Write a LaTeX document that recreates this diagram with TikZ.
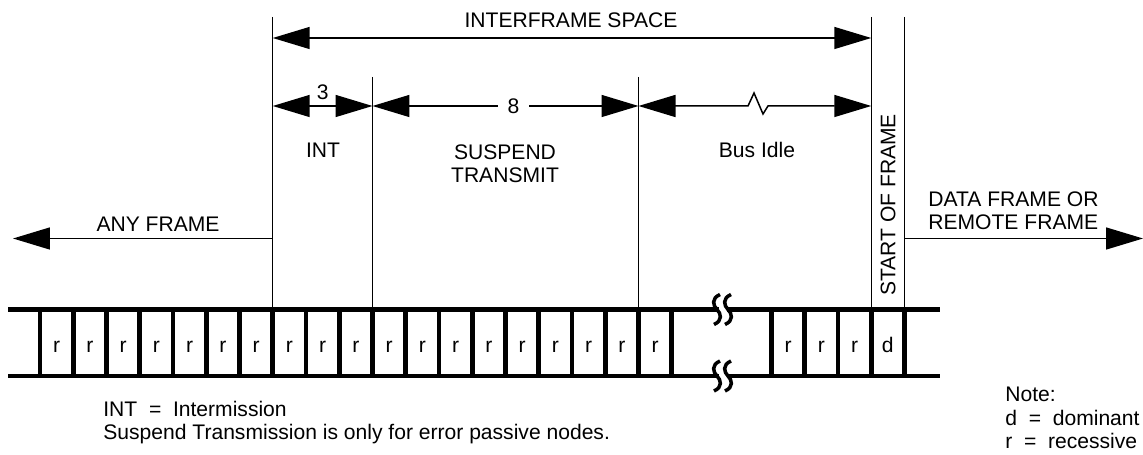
\documentclass[tikz,border=0pt]{standalone}
\usepackage{fontspec}
\setmainfont{Liberation Sans}
\usetikzlibrary{arrows.meta,positioning,calc}

\begin{document}
\begin{tikzpicture}[x=0.02cm, y=-0.02cm, font=\fontsize{12}{13.5}\selectfont, >={Triangle[length=0.74cm, width=0.44cm]},
  wire/.style={line width=0.85pt}, rail/.style={line width=2.7pt}, brk/.style={line width=2pt},
  lbl/.style={anchor=base, inner sep=0pt}]
\useasboundingbox (0,0) rectangle (1143,455);
% field boundaries
\foreach \n/\k/\t in {a/7/17, b/10/77, c/18/77, d/25/17, e/26/17} {
  \coordinate (top\n) at (40+33.25*\k,\t);
  \coordinate (bot\n) at (40+33.25*\k,309.5);
  \draw[wire] (top\n) -- (bot\n);
}
\coordinate (lvl1) at (0,38);
\coordinate (lvl2) at (0,106);
\coordinate (lvl3) at (0,238.5);
\coordinate (westend) at (13,238.5);
\coordinate (eastend) at (1143,238.5);
% lengths
\draw[wire, <->] (topa |- lvl1) -- (topd |- lvl1);
\node[lbl] (ifs) at (571,28) {INTERFRAME SPACE};
\draw[wire, <->] (topa |- lvl2) -- node[above] (three) {3} (topb |- lvl2);
\draw[wire, <->] (topb |- lvl2) -- node[pos=0.53, fill=white, inner xsep=0.2cm, inner ysep=1pt] (eight) {8} (topc |- lvl2);
\draw[wire, <->] (topc |- lvl2) -- (748,106) -- (754,93) -- (763,114) -- (768,106) -- (topd |- lvl2);
\node[lbl] (int) at (323,158) {INT};
\node[lbl, align=center] (susp) at (505,183) {SUSPEND\\TRANSMIT};
\node[lbl] (idle) at (757,158) {Bus Idle};
\node[rotate=90] (sof) at (888,205) {START OF FRAME};
% frames before and after
\draw[wire, ->] (bota |- lvl3) -- (westend);
\node[lbl] (any) at (158,232) {ANY FRAME};
\draw[wire, ->] (bote |- lvl3) -- (eastend);
\node[lbl, anchor=base west, align=left] (next) at (928,230) {DATA FRAME OR\\REMOTE FRAME};
% bit cells
\draw[rail] (8,309.5) -- (719,309.5) (727,309.5) -- (940,309.5);
\draw[rail] (8,376) -- (719,376) (727,376) -- (940,376);
\foreach \k in {0,...,19} \draw[rail] (40+33.25*\k,309.5) -- (40+33.25*\k,376);
\foreach \k in {22,...,26} \draw[rail] (40+33.25*\k,309.5) -- (40+33.25*\k,376);
\foreach \k in {0,...,18} \node[lbl] (r\k) at (56.6+33.25*\k,353) {r};
\foreach \k in {22,23,24} \node[lbl] (r\k) at (56.6+33.25*\k,353) {r};
\node[lbl] (d25) at (56.6+33.25*25,353) {d};
\foreach \x in {717,728} \foreach \y in {309.5,376}
  \draw[brk] (\x+3,\y-15) .. controls (\x-6,\y-11) and (\x-4,\y-4) .. (\x,\y) .. controls (\x+4,\y+4) and (\x+6,\y+11) .. (\x-3,\y+15);
% notes
\node[lbl, anchor=base west, align=left] (key) at (103,440) {INT\ \ =\ \ Intermission\\Suspend Transmission is only for error passive nodes.};
\node[lbl, anchor=base west, align=left] (note) at (1005,449) {Note:\\d\ \ =\ \ dominant\\r\ \ =\ \ recessive};
\end{tikzpicture}
\end{document}
